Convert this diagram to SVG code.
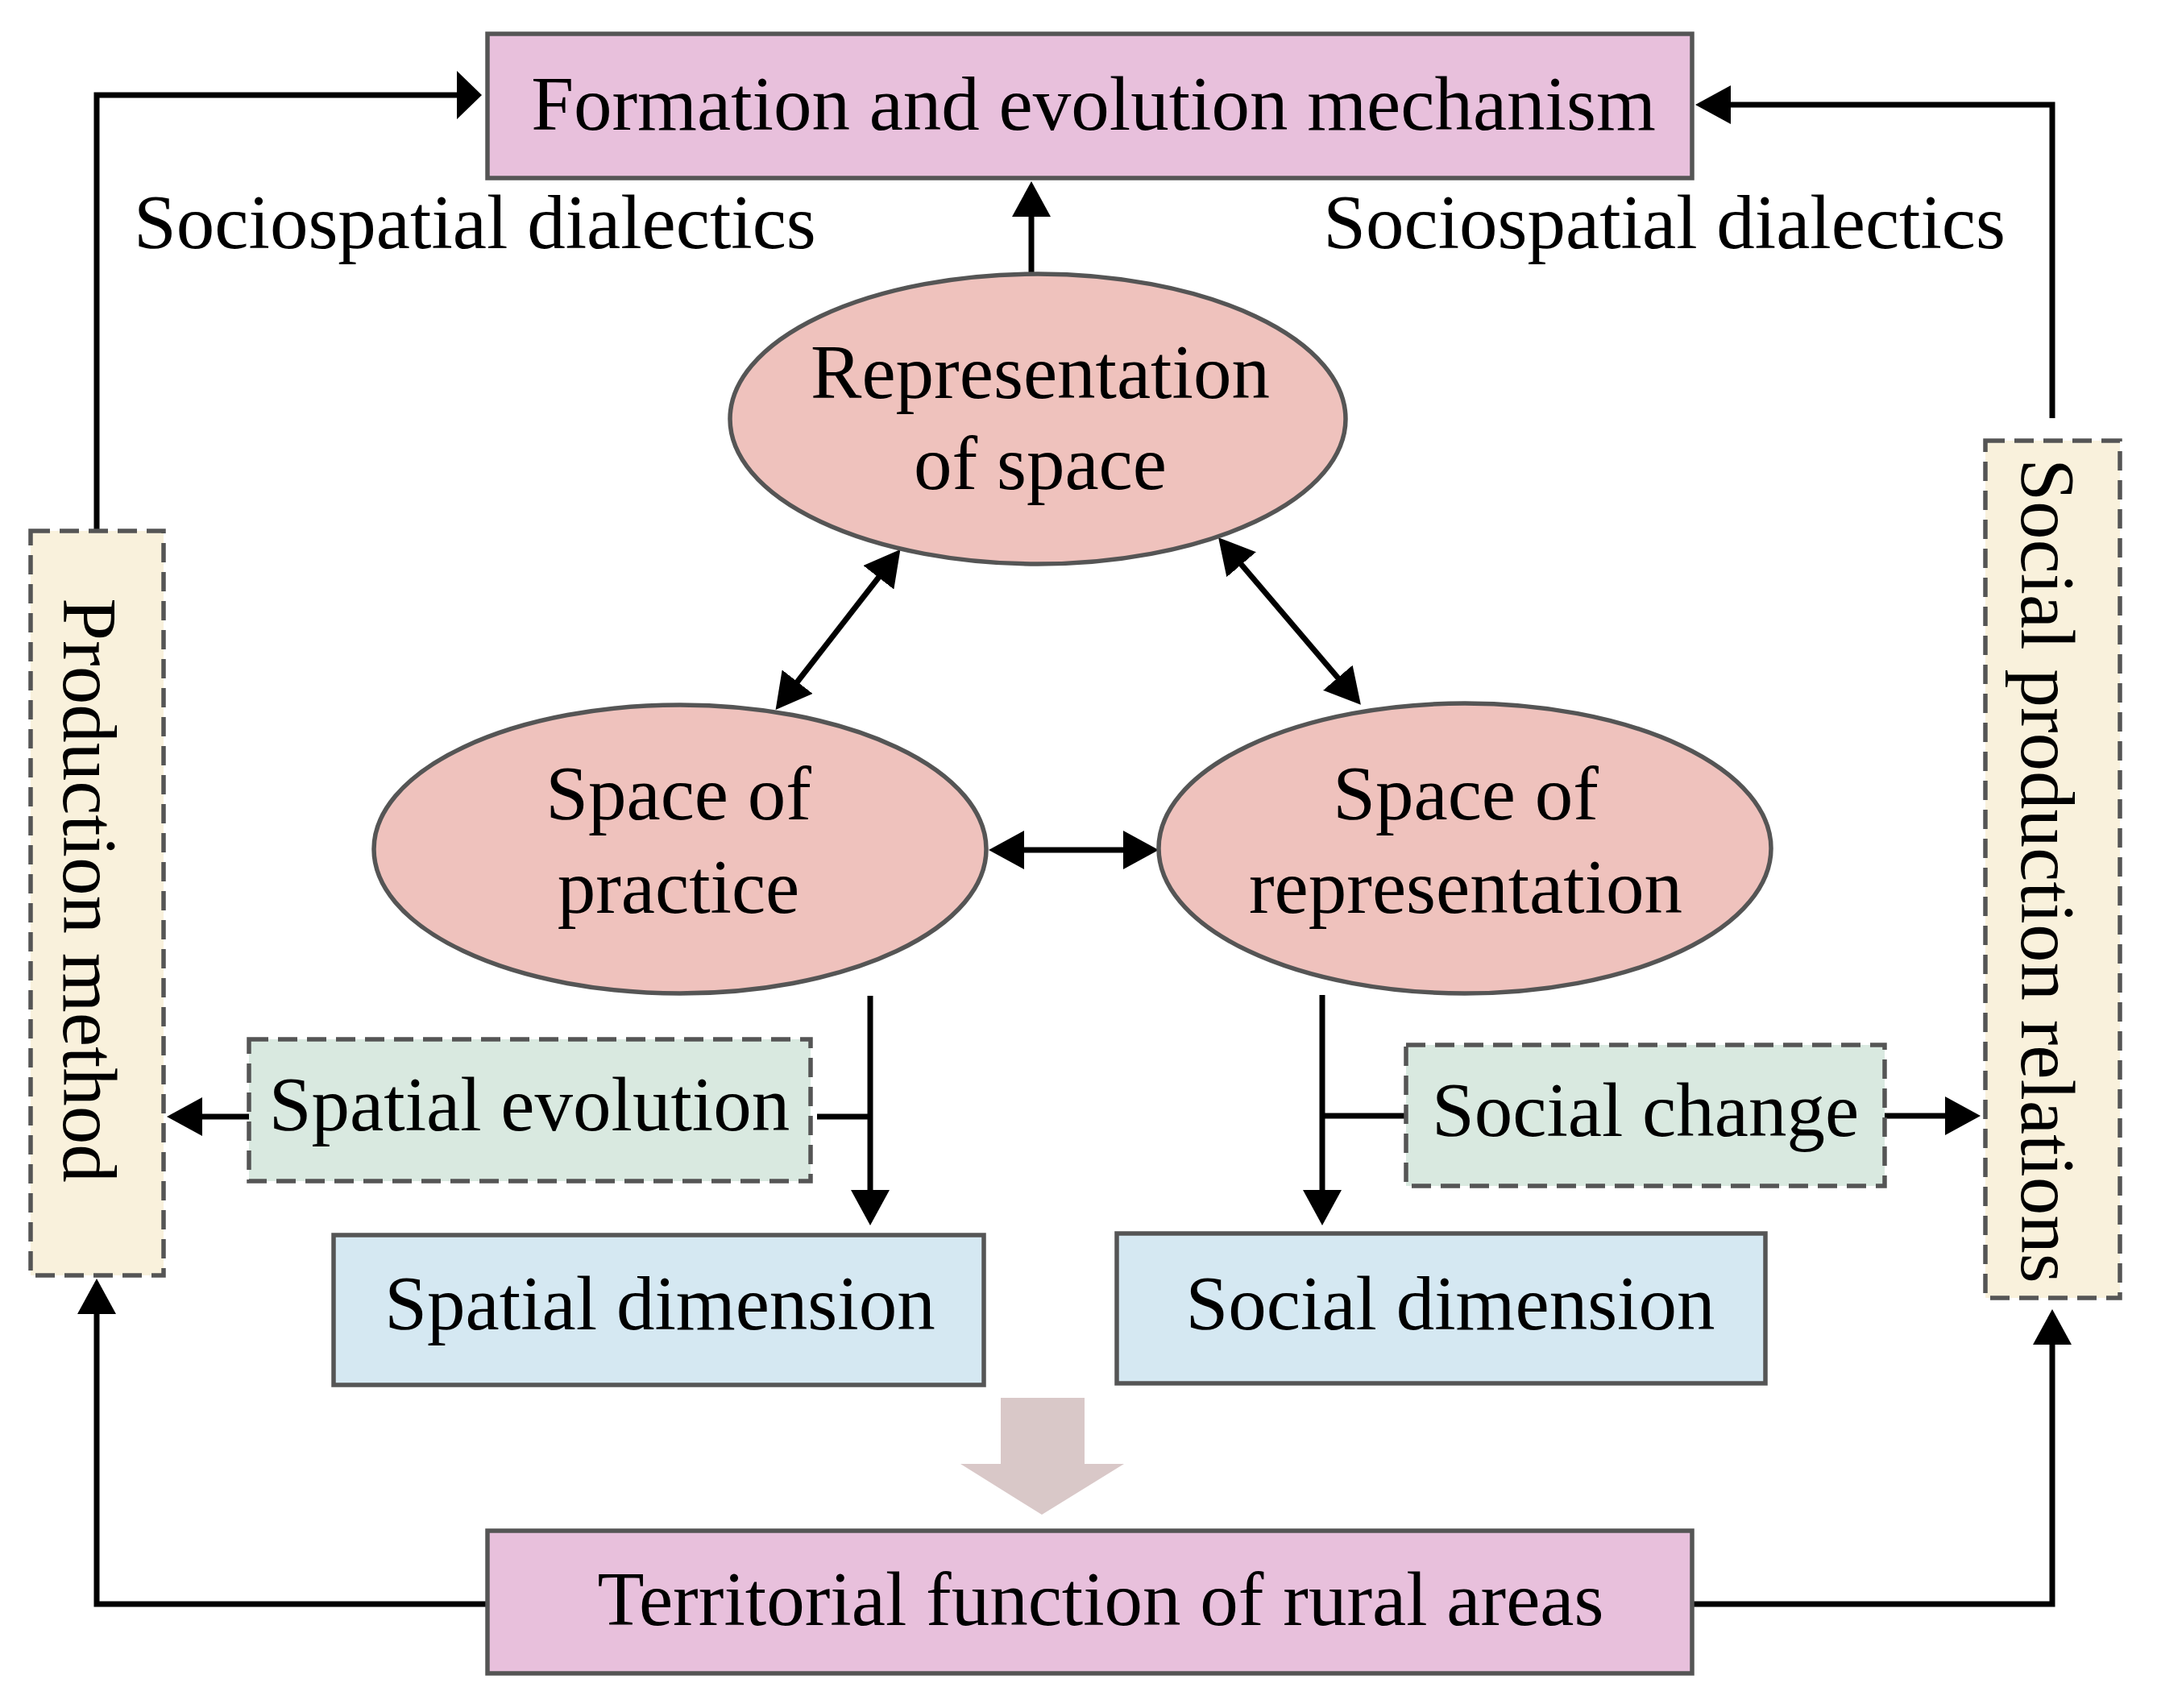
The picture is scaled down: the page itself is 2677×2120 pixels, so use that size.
<svg xmlns="http://www.w3.org/2000/svg" width="2677" height="2120" viewBox="0 0 2677 2120">
<defs>
<style>
text{font-family:"Liberation Serif","Times New Roman",serif;font-size:95px;fill:#000;}
.mid{text-anchor:middle;}
.box{stroke:#555;stroke-width:5.5;}
.pink{fill:#e8c0dc;}
.blue{fill:#d5e8f2;}
.ell{fill:#efc2bd;stroke:#555;stroke-width:5.5;}
.dash{stroke:#555;stroke-width:5.5;stroke-dasharray:24 12;}
.yellow{fill:#f9f1dc;}
.green{fill:#d9e9e0;}
.ln{fill:none;stroke:#000;stroke-width:7;}
</style>
<marker id="a" markerUnits="userSpaceOnUse" viewBox="0 -24 44 48" refX="1" refY="0" markerWidth="44" markerHeight="48" orient="auto-start-reverse">
<path d="M0,-24 L44,0 L0,24 Z" fill="#000"/>
</marker>
<marker id="a2" markerUnits="userSpaceOnUse" viewBox="0 -30 32 60" refX="1" refY="0" markerWidth="32" markerHeight="60" orient="auto">
<path d="M0,-30 L31,0 L0,30 Z" fill="#000"/>
</marker>
</defs>
<rect width="2677" height="2120" fill="#fff"/>

<g id="connectors">
<path class="ln" d="M120,657 V118 H568" marker-end="url(#a2)"/>
<path class="ln" d="M2547,519 V130 H2147" marker-end="url(#a)"/>
<path class="ln" d="M1280,339 V268" marker-end="url(#a)"/>
<path class="ln" d="M1091,716 L989,847" marker-start="url(#a)" marker-end="url(#a)"/>
<path class="ln" d="M1540,700 L1661,842" marker-start="url(#a)" marker-end="url(#a)"/>
<path class="ln" d="M1270,1055 L1395,1055" marker-start="url(#a)" marker-end="url(#a)"/>
<path class="ln" d="M1080,1236 V1478" marker-end="url(#a)"/>
<path class="ln" d="M1014,1386 H1080"/>
<path class="ln" d="M309,1386 H250" marker-end="url(#a)"/>
<path class="ln" d="M1641,1235 V1478" marker-end="url(#a)"/>
<path class="ln" d="M1641,1385 H1744"/>
<path class="ln" d="M2339,1385 H2415" marker-end="url(#a)"/>
<path class="ln" d="M605,1991 H120 V1630" marker-end="url(#a)"/>
<path class="ln" d="M2100,1991 H2547 V1668" marker-end="url(#a)"/>
<polygon points="1242,1735 1346,1735 1346,1817 1395,1817 1293,1880 1192,1817 1242,1817" fill="#d9c8c8"/>
</g>

<g id="formation">
<rect class="box pink" x="605" y="42" width="1495" height="179"/>
<text class="mid" x="1357" y="161">Formation and evolution mechanism</text>
</g>

<g id="label-left">
<text x="166" y="308">Sociospatial dialectics</text>
</g>
<g id="label-right">
<text x="2489" y="308" text-anchor="end">Sociospatial dialectics</text>
</g>

<g id="representation-of-space">
<ellipse class="ell" cx="1288" cy="520" rx="382" ry="180"/>
<text class="mid" x="1291" y="494">Representation</text>
<text class="mid" x="1291" y="607">of space</text>
</g>

<g id="space-of-practice">
<ellipse class="ell" cx="844" cy="1054" rx="380" ry="179"/>
<text class="mid" x="842" y="1017">Space of</text>
<text class="mid" x="842" y="1133">practice</text>
</g>

<g id="space-of-representation">
<ellipse class="ell" cx="1818" cy="1053" rx="380" ry="180"/>
<text class="mid" x="1819" y="1017">Space of</text>
<text class="mid" x="1819" y="1133">representation</text>
</g>

<g id="production-method">
<rect class="dash yellow" x="38" y="659" width="165" height="924"/>
<text class="mid" transform="translate(79,1105) rotate(90)">Production method</text>
</g>

<g id="social-production-relations">
<rect class="dash yellow" x="2464" y="547" width="167" height="1064"/>
<text class="mid" transform="translate(2509,1081) rotate(90)">Social production relations</text>
</g>

<g id="spatial-evolution">
<rect class="dash green" x="309" y="1290" width="697" height="176"/>
<text class="mid" x="657" y="1403">Spatial evolution</text>
</g>

<g id="social-change">
<rect class="dash green" x="1745" y="1297" width="594" height="175"/>
<text class="mid" x="2042" y="1410">Social change</text>
</g>

<g id="spatial-dimension">
<rect class="box blue" x="414" y="1533" width="807" height="186"/>
<text class="mid" x="819" y="1650">Spatial dimension</text>
</g>

<g id="social-dimension">
<rect class="box blue" x="1386" y="1531" width="805" height="186"/>
<text class="mid" x="1800" y="1650">Social dimension</text>
</g>

<g id="territorial-function">
<rect class="box pink" x="605" y="1900" width="1495" height="177"/>
<text class="mid" x="1366" y="2017">Territorial function of rural areas</text>
</g>
</svg>
